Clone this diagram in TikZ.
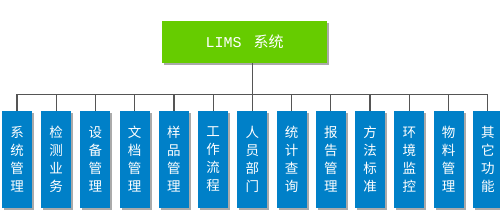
\documentclass[tikz,border=0pt]{standalone}
\usepackage{fontspec}
\usetikzlibrary{positioning,shadows}
\newfontfamily\cjk{Noto Sans CJK SC}
\newfontfamily\monofont{Liberation Mono}
\definecolor{limsGreen}{RGB}{102, 204, 0}
\definecolor{limsBlue}{RGB}{0, 128, 200}
\definecolor{limsLine}{RGB}{85, 85, 85}
\definecolor{limsShadow}{RGB}{170, 170, 170}

\begin{document}
\begin{tikzpicture}[
  root/.style={
    fill=limsGreen,
    minimum width=165pt,
    minimum height=42pt,
    text=white,
    drop shadow={shadow xshift=2pt,shadow yshift=-2pt,fill=limsShadow,opacity=1},
    font=\fontsize{15}{17}\selectfont
  },
  module/.style={
    fill=limsBlue,
    minimum width=30pt,
    minimum height=97pt,
    inner sep=0pt,
    align=center,
    text=white,
    drop shadow={shadow xshift=2pt,shadow yshift=-2pt,fill=limsShadow,opacity=1},
    font=\cjk\fontsize{13.5}{18}\selectfont
  },
  link/.style={draw=limsLine,line width=1.3pt}
]
  \useasboundingbox (0,0) rectangle (500pt,-222pt);
  \node[root] (lims) at (244.5pt,-42pt) {{\monofont LIMS}\hspace{12pt}{\cjk 系统}};
  \node[module] (xitong) at (17pt,-159.5pt) {系\\统\\管\\理};
  \node[module,right=8.83pt of xitong] (jiance) {检\\测\\业\\务};
  \node[module,right=8.83pt of jiance] (shebei) {设\\备\\管\\理};
  \node[module,right=8.83pt of shebei] (wendang) {文\\档\\管\\理};
  \node[module,right=8.83pt of wendang] (yangpin) {样\\品\\管\\理};
  \node[module,right=8.83pt of yangpin] (liucheng) {工\\作\\流\\程};
  \node[module,right=8.83pt of liucheng] (renyuan) {人\\员\\部\\门};
  \node[module,right=8.83pt of renyuan] (tongji) {统\\计\\查\\询};
  \node[module,right=8.83pt of tongji] (baogao) {报\\告\\管\\理};
  \node[module,right=8.83pt of baogao] (fangfa) {方\\法\\标\\准};
  \node[module,right=8.83pt of fangfa] (huanjing) {环\\境\\监\\控};
  \node[module,right=8.83pt of huanjing] (wuliao) {物\\料\\管\\理};
  \node[module,right=8.83pt of wuliao] (qita) {其\\它\\功\\能};
  % trunk and branches
  \coordinate (bus) at ([yshift=-31pt]renyuan.north |- lims.south);
  \draw[link] (renyuan.north |- lims.south) -- (bus);
  \foreach \m in {xitong,jiance,shebei,wendang,yangpin,liucheng,renyuan,
                  tongji,baogao,fangfa,huanjing,wuliao,qita}
    \draw[link] (bus) -| (\m.north);
\end{tikzpicture}
\end{document}
